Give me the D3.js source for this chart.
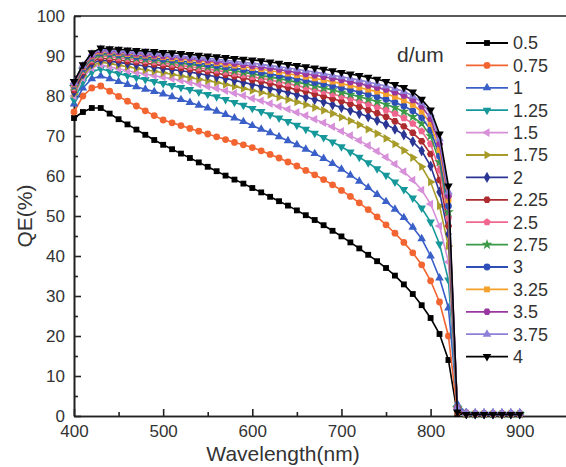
<!DOCTYPE html>
<html lang="en">
<head>
<meta charset="UTF-8">
<title>QE vs wavelength</title>
<script src="https://d3js.org/d3.v7.min.js"></script>
<style>
  body { margin: 0; background: #fff; }
  svg { display: block; font-family: "Liberation Sans", Arial, sans-serif; }
  .axis path, .axis line { stroke: #222; stroke-width: 1.6; }
  .axis text { font-size: 17px; fill: #333; font-family: "Liberation Sans", Arial, sans-serif; }
</style>
</head>
<body>
<svg width="566" height="467"></svg>
<script>
// wavelength grid, nm
const wavelength = [400,410,420,430,440,450,460,470,480,490,500,510,520,530,540,550,560,570,580,590,
  600,610,620,630,640,650,660,670,680,690,700,710,720,730,740,750,760,770,780,790,
  800,810,820,830,840,850,860,870,880,890,900];

// QE(%) for each thickness d (um)
const qe_0_5 = [74.5,76,77,77,75.6,74.2,72.9,71.6,70.3,69,67.8,66.7,65.6,64.5,63.4,62.3,61.2,60.1,59.1,58.1,
  57,55.9,54.8,53.7,52.6,51.4,50.2,49,47.7,46.3,44.9,43.4,41.9,40.3,38.7,37,35.1,32.9,30.5,27.7,
  24.5,20.5,14,0.5,0.4,0.3,0.3,0.3,0.3,0.3,0.3];
const qe_0_75 = [76,80,82,82.5,81.2,79.9,78.7,77.5,76.3,75.1,74,73.3,72.6,71.9,71.2,70.5,69.8,69.1,68.4,67.8,
  67.1,66.3,65.4,64.5,63.5,62.5,61.4,60.3,59.1,57.8,56.4,54.9,53.3,51.6,49.8,47.8,45.7,43.4,40.8,37.8,
  33.8,28.5,20,1,0.6,0.5,0.5,0.5,0.5,0.5,0.5];
const qe_1 = [78,82,84.3,85,84.3,83.6,82.9,82.3,81.7,81.1,80.5,79.8,79.1,78.4,77.7,77,76.2,75.4,74.5,73.6,
  72.6,71.7,70.8,69.8,68.8,67.8,66.7,65.6,64.4,63.1,61.7,60.2,58.7,57.1,55.4,53.6,51.7,49.6,47.2,44.3,
  40,34.5,27,3,0.8,0.7,0.7,0.7,0.7,0.7,0.7];
const qe_1_25 = [79,83.5,86,86.8,86.2,85.6,85.1,84.6,84.1,83.6,83.1,82.6,82.1,81.6,81,80.4,79.8,79.1,78.4,77.7,
  76.9,76.1,75.3,74.5,73.6,72.7,71.7,70.7,69.6,68.5,67.3,66,64.7,63.3,61.8,60.2,58.5,56.6,54.5,52,
  48.5,43,34,2,0.6,0.5,0.5,0.5,0.5,0.5,0.5];
const qe_1_5 = [80,84.5,87,87.8,87.3,86.8,86.3,85.9,85.5,85.1,84.7,84.3,83.9,83.4,82.9,82.4,81.9,81.3,80.7,80.1,
  79.4,78.8,78.1,77.4,76.7,75.9,75.1,74.2,73.3,72.3,71.2,70.1,68.9,67.6,66.2,64.7,63,61.1,59,56.5,
  53,47.5,38.5,2,0.6,0.5,0.5,0.5,0.5,0.5,0.5];
const qe_1_75 = [80.5,85,87.6,88.5,88.1,87.7,87.3,86.9,86.5,86.2,85.8,85.4,85,84.6,84.2,83.8,83.4,82.9,82.4,81.9,
  81.4,80.9,80.3,79.7,79.1,78.5,77.8,77.1,76.4,75.6,74.7,73.8,72.8,71.7,70.6,69.4,68,66.4,64.6,62.3,
  58.5,52.5,42.5,2,0.6,0.5,0.5,0.5,0.5,0.5,0.5];
const qe_2 = [81,85.5,88.1,89,88.7,88.4,88.1,87.8,87.5,87.2,86.9,86.6,86.3,86,85.6,85.2,84.8,84.4,83.9,83.4,
  82.9,82.4,81.9,81.4,80.9,80.3,79.7,79.1,78.5,77.8,77.1,76.4,75.6,74.8,73.9,72.9,71.7,70.3,68.6,66.3,
  62.5,56,45.5,2,0.6,0.5,0.5,0.5,0.5,0.5,0.5];
const qe_2_25 = [81.5,86,88.6,89.5,89.2,89,88.7,88.5,88.2,87.9,87.6,87.3,87,86.7,86.4,86.1,85.7,85.3,84.9,84.5,
  84,83.6,83.1,82.6,82.1,81.6,81.1,80.5,79.9,79.3,78.7,78,77.3,76.5,75.7,74.8,73.7,72.4,70.8,68.7,
  65.5,59,47.5,2,0.6,0.5,0.5,0.5,0.5,0.5,0.5];
const qe_2_5 = [82,86.3,89,90,89.8,89.5,89.3,89,88.8,88.5,88.2,87.9,87.6,87.3,87,86.7,86.4,86,85.6,85.2,
  84.8,84.4,84,83.5,83.1,82.6,82.1,81.6,81.1,80.5,79.9,79.3,78.7,78,77.3,76.5,75.6,74.5,73.1,71.2,
  68,61.5,49.5,2,0.6,0.5,0.5,0.5,0.5,0.5,0.5];
const qe_2_75 = [82.3,86.6,89.3,90.4,90.2,90,89.7,89.5,89.2,89,88.7,88.4,88.2,87.9,87.6,87.3,87,86.6,86.3,85.9,
  85.5,85.1,84.7,84.3,83.9,83.4,83,82.5,82,81.5,80.9,80.4,79.8,79.2,78.6,77.9,77.1,76.1,74.8,73.1,
  70,63.5,51,2,0.6,0.5,0.5,0.5,0.5,0.5,0.5];
const qe_3 = [82.6,86.9,89.6,90.8,90.6,90.4,90.2,89.9,89.7,89.5,89.2,89,88.7,88.5,88.2,87.9,87.6,87.3,87,86.6,
  86.2,85.9,85.5,85.1,84.7,84.3,83.9,83.4,83,82.5,82,81.5,81,80.4,79.8,79.2,78.4,77.5,76.3,74.6,
  71.5,65,52.5,2,0.6,0.5,0.5,0.5,0.5,0.5,0.5];
const qe_3_25 = [82.9,87.2,89.9,91.1,90.9,90.7,90.5,90.3,90.1,89.9,89.7,89.4,89.2,89,88.7,88.5,88.2,87.9,87.6,87.3,
  87,86.7,86.3,86,85.6,85.2,84.8,84.4,84,83.6,83.1,82.6,82.1,81.6,81.1,80.5,79.8,78.9,77.8,76.1,
  73,66.5,54,2,0.6,0.5,0.5,0.5,0.5,0.5,0.5];
const qe_3_5 = [83.2,87.4,90.2,91.4,91.2,91,90.8,90.6,90.4,90.2,90,89.8,89.6,89.4,89.1,88.9,88.6,88.4,88.1,87.8,
  87.5,87.2,86.9,86.6,86.2,85.9,85.5,85.2,84.8,84.4,84,83.5,83.1,82.6,82.1,81.6,80.9,80.1,79,77.4,
  74.3,68,55,2,0.6,0.5,0.5,0.5,0.5,0.5,0.5];
const qe_3_75 = [83.4,87.6,90.5,91.7,91.5,91.3,91.1,90.9,90.8,90.6,90.4,90.2,90,89.8,89.6,89.4,89.2,88.9,88.7,88.4,
  88.2,87.9,87.6,87.3,87,86.7,86.3,86,85.6,85.2,84.8,84.4,84,83.5,83,82.5,81.9,81.1,80,78.4,
  75.5,69.3,56,2,0.8,0.8,0.8,0.8,0.8,0.8,0.8];
const qe_4 = [83.6,87.8,90.8,92,91.8,91.7,91.5,91.4,91.2,91.1,90.9,90.8,90.6,90.4,90.2,90,89.8,89.6,89.4,89.2,
  89,88.8,88.5,88.2,87.9,87.6,87.3,87,86.7,86.3,85.9,85.5,85.1,84.7,84.2,83.6,82.9,82.1,81,79.2,
  76.5,70.5,57.5,1,0.4,0.4,0.4,0.4,0.4,0.4,0.4];

const thickness = ["0.5","0.75","1","1.25","1.5","1.75","2","2.25","2.5","2.75","3","3.25","3.5","3.75","4"];
const seriesValues = [qe_0_5, qe_0_75, qe_1, qe_1_25, qe_1_5, qe_1_75, qe_2, qe_2_25,
  qe_2_5, qe_2_75, qe_3, qe_3_25, qe_3_5, qe_3_75, qe_4];

const colors = ["#000000","#f26430","#3a5fc8","#16989a","#d68fd8","#a79c2a","#2b3594","#ad2a2e",
  "#f0668f","#3b9a48","#2f4fb8","#f5a02a","#9a36a0","#8c80d8","#000000"];

// marker shapes, Origin style
const hexagon = { draw(ctx, size) {
  const r = Math.sqrt(size / (1.5 * Math.sqrt(3)));
  for (let i = 0; i < 6; i++) {
    const a = Math.PI / 3 * i;
    if (i) ctx.lineTo(r * Math.cos(a), r * Math.sin(a)); else ctx.moveTo(r * Math.cos(a), r * Math.sin(a));
  }
  ctx.closePath();
}};
const pentagon = { draw(ctx, size) {
  const r = Math.sqrt(size / 2.378);
  for (let i = 0; i < 5; i++) {
    const a = -Math.PI / 2 + 2 * Math.PI / 5 * i;
    if (i) ctx.lineTo(r * Math.cos(a), r * Math.sin(a)); else ctx.moveTo(r * Math.cos(a), r * Math.sin(a));
  }
  ctx.closePath();
}};
const markers = [
  {type: d3.symbolSquare, rot: 0, size: 34},
  {type: d3.symbolCircle, rot: 0, size: 36},
  {type: d3.symbolTriangle, rot: 0, size: 32},
  {type: d3.symbolTriangle, rot: 180, size: 32},
  {type: d3.symbolTriangle, rot: -90, size: 32},
  {type: d3.symbolTriangle, rot: 90, size: 32},
  {type: d3.symbolDiamond, rot: 0, size: 36},
  {type: hexagon, rot: 0, size: 36},
  {type: pentagon, rot: 0, size: 36},
  {type: d3.symbolStar, rot: 0, size: 36},
  {type: d3.symbolCircle, rot: 0, size: 36},
  {type: d3.symbolSquare, rot: 0, size: 34},
  {type: hexagon, rot: 0, size: 36},
  {type: d3.symbolTriangle, rot: 0, size: 32},
  {type: d3.symbolTriangle, rot: 180, size: 32}
];

let svg = d3.select("svg");
let margins = {left: 74, right: -1, top: 16, bottom: 51};
const W = 566, H = 467;

let xScale = d3.scaleLinear().domain([400, 953]).range([margins.left, W - margins.right]);
let yScale = d3.scaleLinear().domain([0, 100]).range([H - margins.bottom, margins.top]);

// frame top (right edge falls off the picture)
svg.append("line").attr("x1", xScale(400)).attr("x2", xScale(953))
  .attr("y1", yScale(100)).attr("y2", yScale(100)).attr("stroke", "#222").attr("stroke-width", 1.6);

// minor ticks
svg.append("g").attr("class", "axis")
  .attr("transform", "translate(0," + yScale(0) + ")")
  .call(d3.axisBottom(xScale).tickValues([450,550,650,750,850]).tickFormat("").tickSize(-4).tickSizeOuter(0));
svg.append("g").attr("class", "axis")
  .attr("transform", "translate(" + xScale(400) + ",0)")
  .call(d3.axisLeft(yScale).tickValues([5,15,25,35,45,55,65,75,85,95]).tickFormat("").tickSize(-4).tickSizeOuter(0));

// major axes
svg.append("g").attr("class", "axis xAxis")
  .attr("transform", "translate(0," + yScale(0) + ")")
  .call(d3.axisBottom(xScale).tickValues([400,500,600,700,800,900]).tickSize(-7).tickSizeOuter(0).tickPadding(9));
svg.append("g").attr("class", "axis yAxis")
  .attr("transform", "translate(" + xScale(400) + ",0)")
  .call(d3.axisLeft(yScale).tickValues(d3.range(0, 101, 10)).tickSize(-7).tickSizeOuter(0).tickPadding(9));

// axis titles
svg.append("text").attr("x", 283).attr("y", 461).attr("text-anchor", "middle")
  .attr("font-size", 21).attr("fill", "#333").text("Wavelength(nm)");
svg.append("text").attr("transform", "translate(32,216) rotate(-90)").attr("text-anchor", "middle")
  .attr("font-size", 21).attr("fill", "#333").text("QE(%)");

// curves
let line = d3.line().x((d, i) => xScale(wavelength[i])).y(d => yScale(d));
seriesValues.forEach(function (vals, s) {
  let g = svg.append("g");
  g.append("path").attr("d", line(vals)).attr("fill", "none")
    .attr("stroke", colors[s]).attr("stroke-width", 1.6);
  let sym = d3.symbol().type(markers[s].type).size(markers[s].size);
  g.selectAll("path.m").data(vals).enter().append("path").attr("class", "m")
    .attr("d", sym)
    .attr("transform", (d, i) => "translate(" + xScale(wavelength[i]) + "," + yScale(d) + ") rotate(" + markers[s].rot + ")")
    .attr("fill", colors[s]);
});

// legend
svg.append("text").attr("x", 397).attr("y", 62).attr("font-size", 21).attr("fill", "#333").text("d/um");
let legend = svg.append("g");
thickness.forEach(function (t, s) {
  let y = 43 + s * 22.4;
  legend.append("line").attr("x1", 466).attr("x2", 508).attr("y1", y).attr("y2", y)
    .attr("stroke", colors[s]).attr("stroke-width", 1.8);
  legend.append("path").attr("d", d3.symbol().type(markers[s].type).size(markers[s].size)())
    .attr("transform", "translate(487," + y + ") rotate(" + markers[s].rot + ")").attr("fill", colors[s]);
  legend.append("text").attr("x", 513).attr("y", y).attr("dy", "0.36em")
    .attr("font-size", 18).attr("fill", "#333").text(t);
});
</script>
</body>
</html>
